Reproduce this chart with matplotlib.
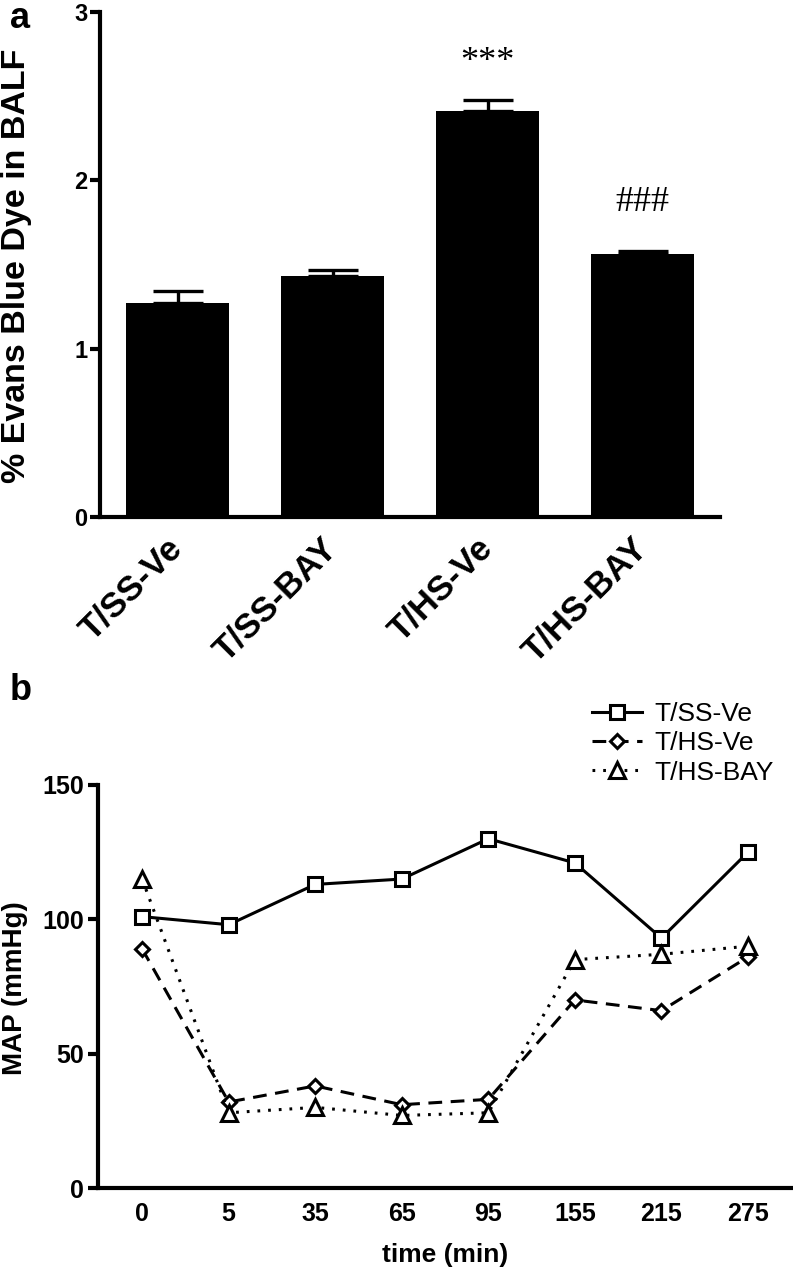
import matplotlib
matplotlib.use("Agg")
import matplotlib.pyplot as plt
import numpy as np

plt.rcParams['font.family'] = ['Liberation Sans', 'DejaVu Sans']

# ---- Data ----
groups = ["T/SS-Ve", "T/SS-BAY", "T/HS-Ve", "T/HS-BAY"]
evans_mean = [1.27, 1.43, 2.41, 1.56]
evans_sem = [0.075, 0.035, 0.07, 0.018]
sig_marks = ["", "", "***", "###"]

time_labels = ["0", "5", "35", "65", "95", "155", "215", "275"]
map_ss_ve = [101, 98, 113, 115, 130, 121, 93, 125]
map_hs_ve = [89, 32, 38, 31, 33, 70, 66, 86]
map_hs_bay = [115, 28, 30, 27, 28, 85, 87, 90]

W, H = 793, 1271
fig = plt.figure(figsize=(W / 100, H / 100), dpi=100)

# ---- Panel a ----
ax1 = fig.add_axes([100 / W, 1 - 517 / H, 620 / W, 505 / H])
x = np.arange(len(groups))
ax1.bar(x, evans_mean, width=0.67, color='black', edgecolor='none', zorder=2)
ax1.errorbar(x, evans_mean, yerr=[np.zeros(len(x)), evans_sem], fmt='none',
             ecolor='black', elinewidth=2.4, capsize=18, capthick=2.4, zorder=3)
ax1.set_xlim(-0.5, 3.5)
ax1.set_ylim(0, 3)
ax1.set_yticks([0, 1, 2, 3])
ax1.set_xticks(x)
ax1.set_xticklabels(groups, rotation=45, ha='right', va='center',
                    rotation_mode='anchor', fontsize=25, fontweight='bold')
ax1.tick_params(axis='x', length=0, pad=19)
ax1.tick_params(axis='y', length=7, width=3, pad=2, labelsize=17)
for lab in ax1.get_yticklabels():
    lab.set_fontweight('bold')
for s in ['top', 'right']:
    ax1.spines[s].set_visible(False)
for s in ['left', 'bottom']:
    ax1.spines[s].set_linewidth(3)

fig.text(17 / W, 1 - 266 / H, "% Evans Blue Dye in BALF", fontsize=24.5,
         fontweight='bold', rotation=90, ha='center', va='center')

# significance marks
ax1.text(x[2], 2.65, sig_marks[2], ha='center', va='baseline', fontsize=26,
         family='Liberation Serif')
ax1.text(x[3], 1.82, sig_marks[3], ha='center', va='baseline', fontsize=26,
         family='Liberation Serif')

fig.text(0.012, 0.999, "a", fontsize=26, fontweight='bold', ha='left', va='top')

# ---- Panel b ----
ax2 = fig.add_axes([98 / W, 1 - 1188 / H, (793 - 98) / W, (1188 - 785) / H])
xt = np.arange(len(time_labels))
lw = 2.2
ax2.plot(xt, map_ss_ve, color='black', lw=lw, linestyle='-', marker='s',
         markersize=10, markerfacecolor='white', markeredgewidth=2.2,
         markeredgecolor='black', label="T/SS-Ve", zorder=3)
ax2.plot(xt, map_hs_ve, color='black', lw=lw, linestyle=(0, (4.5, 2.8)), marker='D',
         markersize=7.5, markerfacecolor='white', markeredgewidth=2.2,
         markeredgecolor='black', label="T/HS-Ve", zorder=3)
ax2.plot(xt, map_hs_bay, color='black', lw=lw, linestyle=(0, (0.9, 2.6)), marker='^',
         markersize=11, markerfacecolor='white', markeredgewidth=2.2,
         markeredgecolor='black', label="T/HS-BAY", zorder=3)
ax2.set_xlim(-0.51, 7.52)
ax2.set_ylim(0, 150)
ax2.set_yticks([0, 50, 100, 150])
ax2.set_xticks(xt)
ax2.set_xticklabels(time_labels)
ax2.tick_params(axis='x', length=0, pad=10, labelsize=18)
ax2.tick_params(axis='y', length=7, width=3, pad=3, labelsize=18)
for lab in ax2.get_xticklabels() + ax2.get_yticklabels():
    lab.set_fontweight('bold')
for s in ['top', 'right']:
    ax2.spines[s].set_visible(False)
for s in ['left', 'bottom']:
    ax2.spines[s].set_linewidth(3)
ax2.set_xlabel("time (min)", fontsize=19, fontweight='bold', labelpad=12)

fig.text(15 / W, 1 - 988 / H, "MAP (mmHg)", fontsize=20, fontweight='bold',
         rotation=90, ha='center', va='center')

fig.legend(loc='upper left', bbox_to_anchor=(592 / W, 1 - 702 / H),
           bbox_transform=fig.transFigure, frameon=False, fontsize=19,
           handlelength=1.9, handletextpad=0.45, labelspacing=0.2,
           borderpad=0, borderaxespad=0, numpoints=1)

fig.text(0.012, 1 - 690 / H, "b", fontsize=26, fontweight='bold', ha='left', va='center')

fig.savefig("out.png", dpi=100)
